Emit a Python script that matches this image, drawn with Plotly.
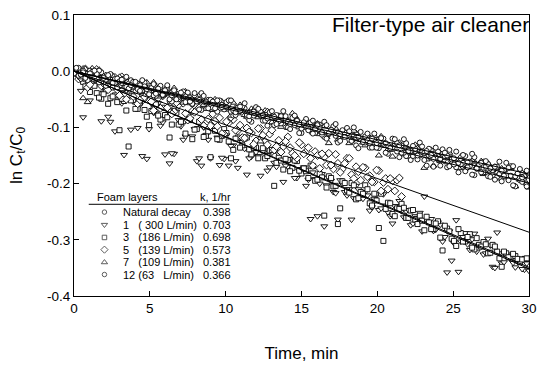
import plotly.graph_objects as go

# ---------------- data ----------------
# two interleaved sampling grids (minutes)
TIME_A = [round(0.3 * i, 2) for i in range(101)]
TIME_B = [round(0.15 + 0.3 * i, 2) for i in range(100)]

NATURAL_A = [0.002,-0.008,0.001,-0.015,-0.001,-0.013,-0.002,-0.026,-0.015,-0.014,
-0.027,-0.014,-0.026,-0.036,-0.022,-0.019,-0.037,-0.034,-0.044,-0.029,
-0.037,-0.053,-0.039,-0.050,-0.036,-0.051,-0.059,-0.048,-0.069,-0.056,
-0.052,-0.068,-0.060,-0.068,-0.058,-0.079,-0.071,-0.067,-0.081,-0.090,
-0.071,-0.079,-0.087,-0.080,-0.096,-0.079,-0.093,-0.100,-0.092,-0.090,
-0.110,-0.100,-0.099,-0.110,-0.095,-0.117,-0.112,-0.108,-0.127,-0.115,
-0.111,-0.124,-0.132,-0.121,-0.127,-0.136,-0.122,-0.137,-0.129,-0.147,
-0.136,-0.143,-0.132,-0.151,-0.158,-0.142,-0.150,-0.158,-0.150,-0.170,
-0.157,-0.153,-0.171,-0.165,-0.171,-0.159,-0.178,-0.169,-0.185,-0.171,
-0.180,-0.187,-0.174,-0.188,-0.196,-0.186,-0.186,-0.205,-0.194,-0.190,
-0.204]
NATURAL_B = [0.004,-0.006,-0.015,0.001,-0.010,0.001,-0.020,-0.012,-0.029,-0.013,
-0.021,-0.028,-0.016,-0.036,-0.025,-0.020,-0.035,-0.043,-0.030,-0.043,
-0.028,-0.054,-0.044,-0.041,-0.055,-0.052,-0.043,-0.068,-0.054,-0.051,
-0.065,-0.072,-0.060,-0.055,-0.072,-0.078,-0.071,-0.066,-0.087,-0.079,
-0.074,-0.088,-0.097,-0.083,-0.078,-0.093,-0.087,-0.103,-0.096,-0.110,
-0.092,-0.100,-0.111,-0.094,-0.113,-0.120,-0.108,-0.115,-0.124,-0.109,
-0.122,-0.115,-0.137,-0.125,-0.123,-0.136,-0.136,-0.124,-0.145,-0.135,
-0.129,-0.153,-0.145,-0.140,-0.151,-0.157,-0.144,-0.168,-0.154,-0.154,
-0.168,-0.153,-0.169,-0.166,-0.180,-0.163,-0.171,-0.184,-0.171,-0.180,
-0.170,-0.188,-0.193,-0.183,-0.176,-0.194,-0.203,-0.188,-0.197,-0.205]

LAYER12_A = [-0.004,0.006,-0.002,-0.016,-0.001,-0.005,-0.019,-0.015,-0.005,-0.021,
-0.018,-0.013,-0.031,-0.019,-0.032,-0.016,-0.032,-0.030,-0.040,-0.026,
-0.034,-0.050,-0.034,-0.046,-0.042,-0.038,-0.058,-0.054,-0.039,-0.054,
-0.051,-0.066,-0.052,-0.063,-0.052,-0.070,-0.065,-0.063,-0.078,-0.073,
-0.064,-0.072,-0.088,-0.073,-0.081,-0.089,-0.071,-0.090,-0.083,-0.088,
-0.102,-0.085,-0.091,-0.103,-0.100,-0.090,-0.110,-0.098,-0.109,-0.105,
-0.101,-0.124,-0.118,-0.108,-0.116,-0.128,-0.111,-0.125,-0.120,-0.132,
-0.120,-0.128,-0.145,-0.128,-0.142,-0.138,-0.127,-0.145,-0.138,-0.156,
-0.143,-0.139,-0.150,-0.157,-0.143,-0.166,-0.151,-0.161,-0.153,-0.167,
-0.161,-0.165,-0.176,-0.170,-0.177,-0.163,-0.169,-0.187,-0.174,-0.187,
-0.181]
LAYER12_B = [0.006,-0.006,-0.012,-0.004,0.001,-0.020,-0.012,-0.007,-0.021,-0.029,
-0.015,-0.010,-0.025,-0.019,-0.035,-0.027,-0.041,-0.023,-0.031,-0.042,
-0.025,-0.043,-0.050,-0.038,-0.045,-0.054,-0.039,-0.051,-0.044,-0.066,
-0.054,-0.052,-0.064,-0.064,-0.052,-0.073,-0.063,-0.057,-0.080,-0.072,
-0.067,-0.078,-0.084,-0.071,-0.094,-0.080,-0.080,-0.094,-0.079,-0.095,
-0.091,-0.105,-0.088,-0.096,-0.109,-0.096,-0.104,-0.094,-0.112,-0.117,
-0.107,-0.100,-0.117,-0.126,-0.111,-0.120,-0.128,-0.119,-0.128,-0.137,
-0.121,-0.132,-0.121,-0.142,-0.133,-0.150,-0.134,-0.142,-0.149,-0.136,
-0.156,-0.145,-0.140,-0.155,-0.163,-0.149,-0.162,-0.147,-0.173,-0.163,
-0.160,-0.173,-0.170,-0.161,-0.186,-0.172,-0.169,-0.182,-0.189,-0.177]

LAYER7_A = [-0.003,0.000,-0.048,-0.055,0.005,-0.017,-0.011,-0.007,-0.026,-0.014,
-0.010,-0.023,-0.031,-0.020,-0.026,-0.035,-0.020,-0.035,-0.027,-0.045,
-0.034,-0.041,-0.030,-0.049,-0.056,-0.040,-0.048,-0.055,-0.047,-0.067,
-0.054,-0.050,-0.068,-0.062,-0.068,-0.056,-0.075,-0.065,-0.081,-0.067,
-0.076,-0.125,-0.070,-0.084,-0.092,-0.082,-0.082,-0.101,-0.075,-0.085,
-0.099,-0.095,-0.105,-0.096,-0.112,-0.098,-0.128,-0.099,-0.122,-0.111,
-0.110,-0.123,-0.110,-0.122,-0.132,-0.118,-0.115,-0.150,-0.130,-0.139,
-0.152,-0.132,-0.148,-0.134,-0.145,-0.131,-0.146,-0.172,-0.143,-0.168,
-0.150,-0.146,-0.162,-0.154,-0.162,-0.152,-0.173,-0.165,-0.161,-0.175,
-0.183,-0.164,-0.172,-0.180,-0.173,-0.189,-0.172,-0.205,-0.193,-0.185,
-0.207]
LAYER7_B = [0.000,-0.011,0.004,-0.009,-0.015,-0.005,-0.009,-0.025,-0.008,-0.022,
-0.032,-0.012,-0.024,-0.033,-0.026,-0.024,-0.040,-0.020,-0.038,-0.042,
-0.032,-0.051,-0.039,-0.046,-0.036,-0.057,-0.052,-0.043,-0.060,-0.055,
-0.069,-0.055,-0.054,-0.068,-0.079,-0.065,-0.060,-0.078,-0.073,-0.069,
-0.082,-0.076,-0.071,-0.091,-0.084,-0.099,-0.082,-0.093,-0.080,-0.100,
-0.096,-0.093,-0.109,-0.093,-0.108,-0.117,-0.106,-0.102,-0.118,-0.109,
-0.128,-0.106,-0.120,-0.127,-0.117,-0.124,-0.137,-0.116,-0.133,-0.140,
-0.130,-0.127,-0.143,-0.152,-0.139,-0.137,-0.148,-0.157,-0.140,-0.151,
-0.160,-0.150,-0.145,-0.163,-0.172,-0.161,-0.171,-0.159,-0.170,-0.160,
-0.181,-0.177,-0.170,-0.191,-0.176,-0.173,-0.189,-0.186,-0.181,-0.200]

LAYER5_A = [-0.002,-0.014,0.003,-0.029,-0.008,0.003,-0.026,-0.014,-0.026,-0.011,
-0.043,-0.030,-0.023,-0.045,-0.058,-0.029,-0.041,-0.054,-0.043,-0.066,
-0.040,-0.062,-0.072,-0.060,-0.057,-0.087,-0.071,-0.069,-0.086,-0.063,
-0.097,-0.089,-0.083,-0.112,-0.092,-0.086,-0.106,-0.118,-0.101,-0.110,
-0.124,-0.102,-0.125,-0.112,-0.140,-0.123,-0.134,-0.117,-0.146,-0.155,
-0.131,-0.143,-0.155,-0.143,-0.173,-0.153,-0.146,-0.174,-0.164,-0.174,
-0.155,-0.184,-0.170,-0.194,-0.172,-0.186,-0.197,-0.177,-0.198,-0.210,
-0.195,-0.194,-0.223]
LAYER5_B = [-0.001,-0.012,0.004,-0.024,-0.007,0.001,-0.022,-0.033,-0.013,-0.033,
-0.010,-0.050,-0.034,-0.030,-0.051,-0.046,-0.032,-0.070,-0.048,-0.044,
-0.065,-0.076,-0.056,-0.049,-0.075,-0.084,-0.073,-0.065,-0.097,-0.085,
-0.076,-0.098,-0.111,-0.090,-0.082,-0.105,-0.096,-0.119,-0.108,-0.130,
-0.102,-0.114,-0.131,-0.105,-0.134,-0.144,-0.125,-0.136,-0.150,-0.127,
-0.147,-0.136,-0.168,-0.150,-0.147,-0.167,-0.167,-0.148,-0.180,-0.164,
-0.155,-0.191,-0.179,-0.171,-0.188,-0.197,-0.176,-0.213,-0.191,-0.191,
-0.213,-0.190]

LAYER1_A = [0.000,-0.009,-0.082,-0.007,-0.023,-0.021,-0.089,-0.035,-0.090,-0.107,
-0.040,-0.149,-0.036,-0.054,-0.101,-0.151,-0.156,-0.057,-0.075,-0.097,
-0.148,-0.164,-0.147,-0.087,-0.122,-0.080,-0.116,-0.160,-0.168,-0.114,
-0.155,-0.104,-0.167,-0.156,-0.168,-0.132,-0.172,-0.126,-0.184,-0.152,
-0.144,-0.186,-0.141,-0.171,-0.163,-0.148,-0.197,-0.170,-0.157,-0.190,
-0.174,-0.204,-0.263,-0.192,-0.200,-0.276,-0.189,-0.215,-0.264,-0.201,
-0.221,-0.264,-0.204,-0.225,-0.215,-0.248,-0.227,-0.247,-0.219,-0.251,
-0.271,-0.240,-0.249,-0.249,-0.274,-0.258,-0.252,-0.223,-0.265,-0.284,
-0.269,-0.303,-0.358,-0.337,-0.265,-0.303,-0.288,-0.318,-0.289,-0.310,
-0.326,-0.298,-0.348,-0.287,-0.342,-0.329,-0.335,-0.349,-0.334,-0.353,
-0.355]
LAYER1_B = [-0.005,-0.035,-0.004,-0.052,-0.024,-0.015,-0.038,-0.081,-0.028,-0.043,
-0.057,-0.034,-0.104,-0.052,-0.060,-0.051,-0.103,-0.074,-0.057,-0.091,
-0.076,-0.146,-0.072,-0.098,-0.116,-0.085,-0.103,-0.155,-0.100,-0.122,
-0.098,-0.118,-0.154,-0.114,-0.133,-0.160,-0.118,-0.138,-0.155,-0.133,
-0.151,-0.143,-0.177,-0.145,-0.170,-0.158,-0.168,-0.156,-0.190,-0.177,
-0.171,-0.193,-0.180,-0.258,-0.183,-0.203,-0.195,-0.217,-0.194,-0.215,
-0.210,-0.226,-0.210,-0.227,-0.221,-0.242,-0.219,-0.244,-0.239,-0.258,
-0.240,-0.231,-0.260,-0.247,-0.271,-0.261,-0.285,-0.265,-0.263,-0.282,
-0.273,-0.295,-0.285,-0.306,-0.357,-0.295,-0.308,-0.299,-0.321,-0.312,
-0.324,-0.310,-0.350,-0.324,-0.340,-0.326,-0.341,-0.339,-0.352,-0.342]

LAYER3_A = [0.003,-0.007,-0.019,-0.005,-0.022,-0.039,-0.049,-0.034,-0.048,-0.043,
-0.105,-0.053,-0.134,-0.051,-0.067,-0.044,-0.081,-0.071,-0.059,-0.086,
-0.078,-0.118,-0.071,-0.095,-0.089,-0.077,-0.121,-0.103,-0.095,-0.115,
-0.153,-0.106,-0.122,-0.103,-0.125,-0.140,-0.118,-0.132,-0.118,-0.148,
-0.136,-0.121,-0.155,-0.141,-0.204,-0.154,-0.175,-0.158,-0.172,-0.160,
-0.182,-0.178,-0.168,-0.195,-0.183,-0.257,-0.187,-0.205,-0.272,-0.196,
-0.212,-0.199,-0.228,-0.215,-0.203,-0.235,-0.218,-0.279,-0.302,-0.234,
-0.254,-0.244,-0.236,-0.261,-0.248,-0.264,-0.257,-0.283,-0.269,-0.281,
-0.267,-0.319,-0.280,-0.298,-0.311,-0.288,-0.303,-0.290,-0.317,-0.309,
-0.304,-0.324,-0.309,-0.321,-0.348,-0.324,-0.330,-0.329,-0.339,-0.334,
-0.334]
LAYER3_B = [-0.004,-0.013,-0.027,-0.037,-0.026,-0.047,-0.041,-0.058,-0.045,-0.055,
-0.049,-0.070,-0.052,-0.067,-0.056,-0.069,-0.096,-0.067,-0.079,-0.065,
-0.082,-0.095,-0.074,-0.090,-0.111,-0.087,-0.104,-0.090,-0.117,-0.107,
-0.097,-0.121,-0.115,-0.110,-0.155,-0.120,-0.136,-0.120,-0.139,-0.136,
-0.155,-0.137,-0.151,-0.140,-0.163,-0.159,-0.156,-0.178,-0.159,-0.177,
-0.173,-0.190,-0.169,-0.193,-0.189,-0.207,-0.190,-0.204,-0.244,-0.199,
-0.216,-0.203,-0.226,-0.218,-0.210,-0.239,-0.230,-0.218,-0.245,-0.235,
-0.258,-0.245,-0.243,-0.261,-0.247,-0.272,-0.266,-0.259,-0.281,-0.271,
-0.296,-0.275,-0.285,-0.302,-0.281,-0.303,-0.295,-0.314,-0.297,-0.312,
-0.308,-0.323,-0.312,-0.333,-0.321,-0.331,-0.325,-0.334,-0.335,-0.333]

# legend table
LEG_LABELS = ["Natural decay", "1\u00a0\u00a0 ( 300 L/min)", "3\u00a0\u00a0 (186 L/min)",
              "5\u00a0\u00a0 (139 L/min)", "7\u00a0\u00a0 (109 L/min)", "12 (63\u00a0\u00a0 L/min)"]
K_VALUES = [0.398, 0.703, 0.698, 0.573, 0.381, 0.366]   # 1/hr
SYMBOLS = ["circle", "triangle-down", "square", "diamond", "triangle-up", "circle"]
SIZES = [5, 6, 5, 6, 6, 5]
SERIES_A = [NATURAL_A, LAYER1_A, LAYER3_A, LAYER5_A, LAYER7_A, LAYER12_A]
SERIES_B = [NATURAL_B, LAYER1_B, LAYER3_B, LAYER5_B, LAYER7_B, LAYER12_B]

Y_TICKS = [-0.4, -0.3, -0.2, -0.1, 0.0, 0.1]
Y_TICKTEXT = ["-0.4", "-0.3", "-0.2", "-0.1", "0.0", "0.1"]
X_TICKS = [0, 5, 10, 15, 20, 25, 30]

# ---------------- layout geometry (pixels) ----------------
W, H = 545, 367
L, R, T, B = 74, 8, 12, 67
PW, PH = W - L - R, H - T - B

def px(x):
    return (x - L) / PW

def py(y):
    return (H - B - y) / PH

FONT = "Arial, Liberation Sans, sans-serif"

fig = go.Figure()

# data markers (upper-band circles drawn last)
draw_order = [1, 2, 3, 4, 0, 5]
for idx in draw_order:
    ya, yb = SERIES_A[idx], SERIES_B[idx]
    xs = TIME_A[:len(ya)] + TIME_B[:len(yb)]
    ys = ya + yb
    fig.add_trace(go.Scatter(
        x=xs, y=ys, mode="markers",
        marker=dict(symbol=SYMBOLS[idx], size=SIZES[idx], color="white",
                    line=dict(color="black", width=0.9)),
        showlegend=False, hoverinfo="skip"))

# first-order decay fits: ln(Ct/C0) = -k t
for k in K_VALUES:
    fig.add_trace(go.Scatter(
        x=[0, 30], y=[0, -k * 30 / 60], mode="lines",
        line=dict(color="black", width=1), showlegend=False, hoverinfo="skip"))

# legend symbols (overlay axis in paper-like units)
ROW_Y = [214, 227, 240, 252.5, 265.5, 278]
SYM_X = 105
fig.add_trace(go.Scatter(
    x=[px(SYM_X)] * 6, y=[py(v) for v in ROW_Y], mode="markers",
    marker=dict(symbol=SYMBOLS, size=[s - 0.5 for s in SIZES], color="white",
                line=dict(color="black", width=0.9)),
    xaxis="x2", yaxis="y2", showlegend=False, hoverinfo="skip"))

LEG_FONT = dict(size=11, family=FONT, color="black")
annotations = []
for lab, k, yy in zip(LEG_LABELS, K_VALUES, ROW_Y):
    annotations.append(dict(x=px(122), y=py(yy), xref="paper", yref="paper", text=lab,
                            showarrow=False, xanchor="left", yanchor="middle", font=LEG_FONT))
    annotations.append(dict(x=px(203), y=py(yy), xref="paper", yref="paper", text=f"{k:.3f}",
                            showarrow=False, xanchor="left", yanchor="middle", font=LEG_FONT))
annotations.append(dict(x=px(95), y=py(199), xref="paper", yref="paper", text="Foam layers",
                        showarrow=False, xanchor="left", yanchor="middle", font=LEG_FONT))
annotations.append(dict(x=px(200), y=py(199), xref="paper", yref="paper", text="k, 1/hr",
                        showarrow=False, xanchor="left", yanchor="middle", font=LEG_FONT))
annotations.append(dict(x=px(539), y=py(22), xref="paper", yref="paper",
                        text="Filter-type air cleaner", showarrow=False,
                        xanchor="right", yanchor="middle",
                        font=dict(size=21, family=FONT, color="black")))

shapes = [dict(type="line", xref="paper", yref="paper", x0=px(89), x1=px(232),
               y0=py(206), y1=py(206), line=dict(color="black", width=1))]

axis_common = dict(showline=True, linecolor="black", linewidth=1, mirror=True,
                   ticks="inside", ticklen=5, tickwidth=1, tickcolor="black",
                   showgrid=False, zeroline=False,
                   tickfont=dict(size=13.5, family=FONT, color="black"))

fig.update_layout(
    width=W, height=H, margin=dict(l=L, r=R, t=T, b=B),
    paper_bgcolor="white", plot_bgcolor="white",
    font=dict(family=FONT, color="black"),
    xaxis=dict(range=[0, 30], tickvals=X_TICKS, title=dict(text="Time, min",
               font=dict(size=17, family=FONT), standoff=31), **axis_common),
    yaxis=dict(range=[-0.4, 0.1], tickvals=Y_TICKS, ticktext=Y_TICKTEXT,
               title=dict(text="ln C<sub>t</sub>/C<sub>0</sub>", font=dict(size=17, family=FONT),
                          standoff=20), **axis_common),
    xaxis2=dict(overlaying="x", range=[0, 1], visible=False),
    yaxis2=dict(overlaying="y", range=[0, 1], visible=False),
    annotations=annotations, shapes=shapes,
)

fig.write_html("out.html")
